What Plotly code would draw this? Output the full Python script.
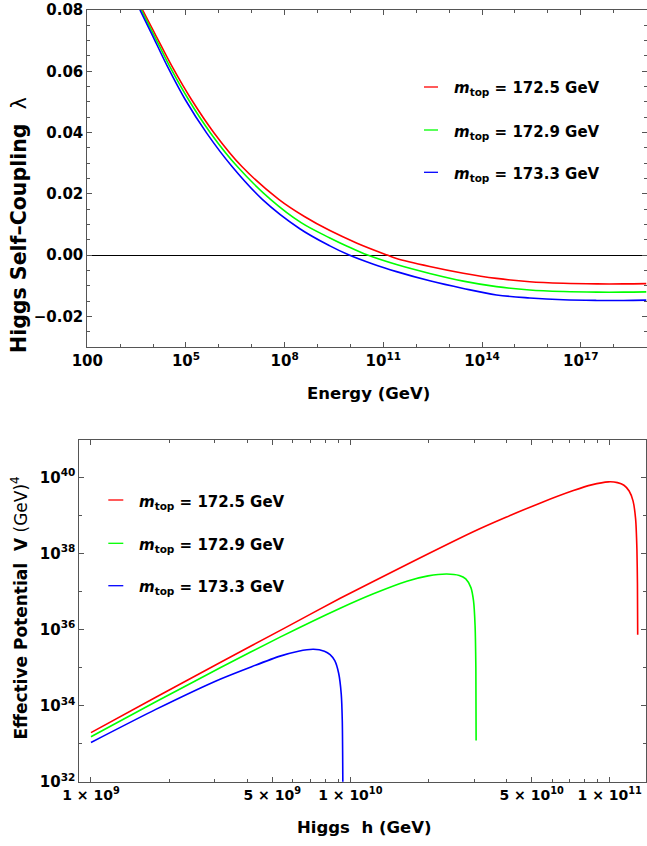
import numpy as np
import plotly.graph_objects as go

W, H = 647, 846

# ---------------- data ----------------
# top panel: log10(Energy/GeV) and Higgs self-coupling lambda
mt_labels = ["172.5", "172.9", "173.3"]
colors = ["#FF0000", "#00FF00", "#0000FF"]

red_logE = [3.68, 4.05, 4.58, 5.17, 5.86, 6.70, 7.82, 8.6, 9.375, 10.2, 11.12, 11.4,
            12.41, 13.43, 14.44, 15.45, 16.47, 17.49, 18.3, 19.0]
red_lam = [0.080, 0.0724, 0.0615, 0.0507, 0.0398, 0.0289, 0.0182, 0.0126, 0.0080, 0.0039, 0.0,
           -0.0011, -0.0037, -0.0059, -0.0076, -0.0087, -0.0092, -0.0094, -0.0094, -0.0093]

green_logE = [3.64, 4.00, 4.51, 5.08, 5.75, 6.56, 7.57, 8.5, 9.375, 9.9, 10.52, 11.40,
              12.41, 13.43, 14.44, 15.45, 16.47, 17.49, 18.3, 19.0]
green_lam = [0.080, 0.0724, 0.0615, 0.0507, 0.0398, 0.0289, 0.0182, 0.0106, 0.0056, 0.0029, 0.0,
             -0.0031, -0.0060, -0.0085, -0.0103, -0.0114, -0.0119, -0.0121, -0.0121, -0.0120]

blue_logE = [3.60, 3.95, 4.44, 4.98, 5.63, 6.40, 7.32, 8.46, 9.375, 9.96, 10.7, 11.40,
             12.41, 13.43, 14.44, 15.45, 16.47, 17.49, 18.3, 19.0]
blue_lam = [0.080, 0.0724, 0.0615, 0.0507, 0.0398, 0.0289, 0.0182, 0.0086, 0.0030, 0.0, -0.0030,
            -0.0054, -0.0084, -0.0109, -0.0130, -0.0140, -0.0146, -0.0148, -0.0148, -0.0147]

# bottom panel: log10(h/GeV) and log10(V/GeV^4)
red_logh = [9.0, 9.25, 9.5, 9.75, 9.961, 10.218, 10.474, 10.6, 10.731, 10.86, 10.93, 10.995,
            11.03, 11.055, 11.075, 11.09, 11.1, 11.105, 11.107, 11.108]
red_logV = [33.29, 34.22, 35.14, 36.05, 36.82, 37.71, 38.57, 38.95, 39.32, 39.65, 39.80, 39.88,
            39.86, 39.79, 39.64, 39.38, 38.9, 38.1, 37.2, 35.86]

green_logh = [9.0, 9.25, 9.5, 9.729, 9.961, 10.089, 10.218, 10.30, 10.372, 10.42, 10.445,
              10.465, 10.475, 10.481, 10.484, 10.485]
green_logV = [33.18, 34.10, 35.00, 35.80, 36.56, 36.94, 37.27, 37.41, 37.46, 37.42, 37.33,
              37.10, 36.75, 36.1, 35.0, 33.08]

blue_logh = [9.0, 9.25, 9.5, 9.729, 9.8, 9.858, 9.9, 9.922, 9.94, 9.955, 9.965, 9.969, 9.9715]
blue_logV = [33.03, 33.90, 34.70, 35.30, 35.43, 35.48, 35.43, 35.34, 35.18, 34.85, 34.3, 33.6, 31.5]

# tick labels
top_xticks = [2, 5, 8, 11, 14, 17]
top_xticktext = ["100", "10<sup>5</sup>", "10<sup>8</sup>", "10<sup>11</sup>",
                 "10<sup>14</sup>", "10<sup>17</sup>"]
top_yticks = [-0.02, 0.0, 0.02, 0.04, 0.06, 0.08]
top_yticktext = ["\u22120.02", "0.00", "0.02", "0.04", "0.06", "0.08"]
bot_xticks = [1e9, 5e9, 1e10, 5e10, 1e11]
bot_xticktext = ["1 \u00d7 10<sup>9</sup>", "5 \u00d7 10<sup>9</sup>", "1 \u00d7 10<sup>10</sup>",
                 "5 \u00d7 10<sup>10</sup>", "1 \u00d7 10<sup>11</sup>"]
bot_yexp = [32, 34, 36, 38, 40]

# ---------------- figure ----------------
FONT = "DejaVu Sans"
FRAME = "#555555"

def px(x):
    return x / W

def py(y):
    return 1 - y / H

fig = go.Figure()
top_sets = [(red_logE, red_lam), (green_logE, green_lam), (blue_logE, blue_lam)]
for (lx, ly), c in zip(top_sets, colors):
    fig.add_trace(go.Scatter(x=np.power(10.0, lx), y=ly, mode="lines",
                             line=dict(color=c, width=1.6, shape="spline", smoothing=1.0),
                             xaxis="x", yaxis="y", showlegend=False, hoverinfo="skip"))
bot_sets = [(red_logh, red_logV), (green_logh, green_logV), (blue_logh, blue_logV)]
for (lx, ly), c in zip(bot_sets, colors):
    fig.add_trace(go.Scatter(x=np.power(10.0, lx), y=np.power(10.0, ly), mode="lines",
                             line=dict(color=c, width=1.6, shape="spline", smoothing=0.6),
                             xaxis="x2", yaxis="y2", showlegend=False, hoverinfo="skip"))

def tickfont(size):
    return dict(family=FONT, size=size, color="black", weight="bold")

common = dict(showgrid=False, showline=True, linecolor=FRAME, linewidth=1, mirror="ticks",
              ticks="inside", ticklen=5, tickcolor=FRAME, tickwidth=1, automargin=False)

fig.update_layout(
    template="none",
    width=W, height=H, margin=dict(l=0, r=0, t=0, b=0, pad=0), autosize=False,
    paper_bgcolor="white", plot_bgcolor="white", showlegend=False,
    xaxis=dict(type="log", domain=[px(87.3), px(646.5)], range=[2, 19], anchor="y",
               tickmode="array", tickvals=[10.0 ** v for v in top_xticks], ticktext=top_xticktext,
               zeroline=False, tickfont=tickfont(15),
               minor=dict(ticks="inside", ticklen=3, tickcolor=FRAME, dtick=1, tick0=0),
               **common),
    yaxis=dict(domain=[py(347), py(10)], range=[-0.03, 0.08], anchor="x",
               tickmode="array", tickvals=top_yticks, ticktext=top_yticktext,
               zeroline=True, zerolinecolor="black", zerolinewidth=1, tickfont=tickfont(15),
               minor=dict(ticks="inside", ticklen=3, tickcolor=FRAME, dtick=0.005, tick0=0),
               **common),
    xaxis2=dict(type="log", domain=[px(79.3), px(646)], range=[8.955, 11.14], anchor="y2",
                tickmode="array", tickvals=bot_xticks, ticktext=bot_xticktext, zeroline=False,
                tickfont=tickfont(14),
                minor=dict(ticks="inside", ticklen=3, tickcolor=FRAME, dtick="D1"),
                **common),
    yaxis2=dict(type="log", domain=[py(781.7), py(440)], range=[32, 40.98], anchor="x2",
                tickmode="array", tickvals=[10.0 ** e for e in bot_yexp],
                ticktext=["10<sup>%d</sup>" % e for e in bot_yexp], zeroline=False,
                tickfont=tickfont(15),
                minor=dict(ticks="inside", ticklen=3, tickcolor=FRAME, dtick=1, tick0=0),
                **common),
)

ann = []
def add_text(text, x, y, size, xanchor="center", yanchor="middle", angle=0):
    ann.append(dict(text=text, x=px(x), y=py(y), xref="paper", yref="paper",
                    xanchor=xanchor, yanchor=yanchor, showarrow=False, textangle=angle,
                    font=dict(family=FONT, size=size, color="black")))

add_text("<b>Energy (GeV)</b>", 368, 393, 16.5)
add_text("<b>Higgs  h (GeV)</b>", 364, 827, 16.5)
add_text("<b>Higgs Self\u2013Coupling  </b>\u03bb", 19, 225, 20.5, angle=-90)
add_text("<b>Effective Potential  V</b> (GeV)<sup>4</sup>", 19.5, 608, 17, angle=-90)

shapes = []
top_leg_y = [87, 130, 172.3]
bot_leg_y = [500, 543.3, 585.7]
for lab, c, yt, yb in zip(mt_labels, colors, top_leg_y, bot_leg_y):
    txt = "<b><i>m</i><sub>top</sub> = %s GeV</b>" % lab
    add_text(txt, 451.7, yt + 2, 15, xanchor="left")
    add_text(txt, 136.7, yb + 2, 15, xanchor="left")
    shapes.append(dict(type="line", xref="paper", yref="paper", x0=px(424), x1=px(438),
                       y0=py(yt), y1=py(yt), line=dict(color=c, width=1.3)))
    shapes.append(dict(type="line", xref="paper", yref="paper", x0=px(108.3), x1=px(123.3),
                       y0=py(yb), y1=py(yb), line=dict(color=c, width=1.3)))

fig.update_layout(annotations=ann, shapes=shapes)
fig.write_html("out.html", config={"displayModeBar": False},
               post_script="document.body.style.margin='0';document.body.style.overflow='hidden';")
